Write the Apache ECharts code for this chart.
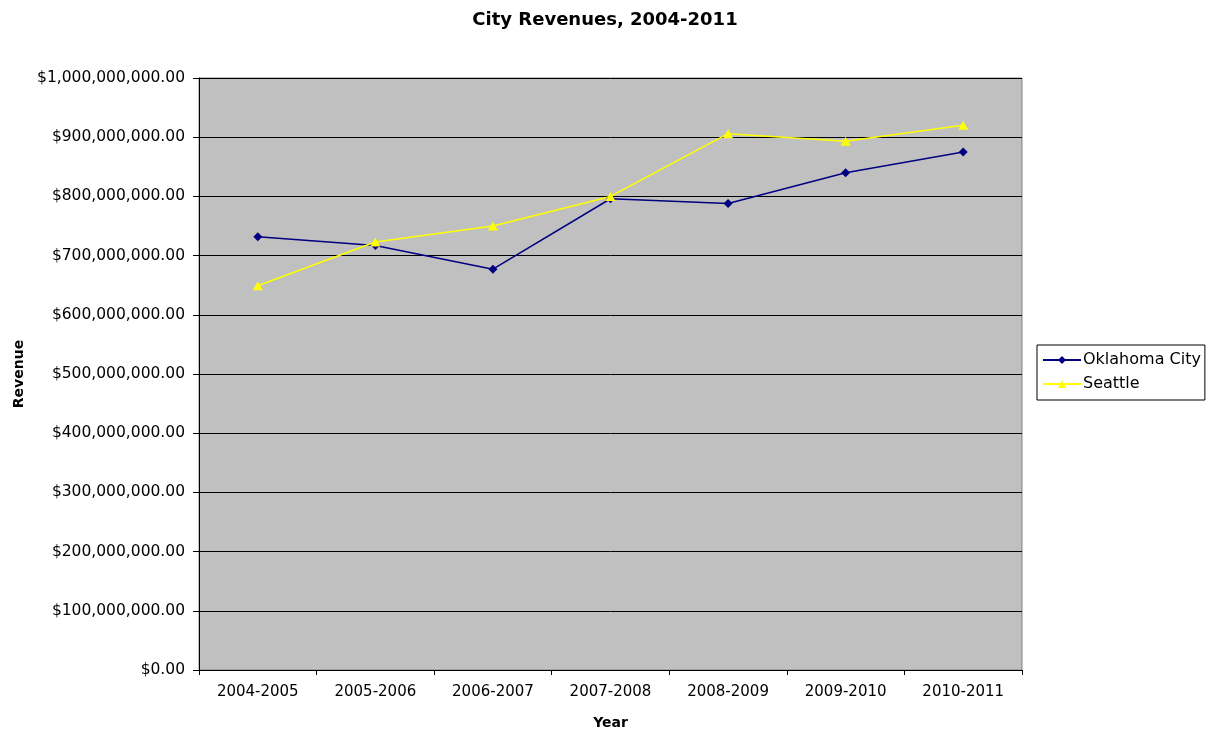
<!DOCTYPE html>
<html>
<head>
<meta charset="utf-8">
<script src="https://cdn.jsdelivr.net/npm/echarts@6/dist/echarts.min.js"></script>
<style>
  html, body { margin: 0; padding: 0; background: #fff; }
  #chart { width: 1212px; height: 732px; }
</style>
</head>
<body>
<div id="chart"></div>
<script>
  var years = ['2004-2005', '2005-2006', '2006-2007', '2007-2008', '2008-2009', '2009-2010', '2010-2011']
  var oklahomaCity = [732000000, 717000000, 677000000, 796000000, 788000000, 840000000, 875000000]
  var seattle = [649000000, 723000000, 750000000, 800000000, 906000000, 893000000, 920000000]

  function money(v) {
    return '$' + v.toLocaleString('en-US', { minimumFractionDigits: 2, maximumFractionDigits: 2 })
  }

  var mychart = echarts.init(document.getElementById('chart'))
  var font = 'DejaVu Sans, Verdana, sans-serif'
  var option = {
    animation: false,
    textStyle: { fontFamily: font },
    title: {
      text: 'City Revenues, 2004-2011',
      left: 600,
      top: 6,
      textAlign: 'center',
      textStyle: { fontSize: 18, fontWeight: 'bold', color: '#000', fontFamily: font }
    },
    legend: {
      orient: 'vertical',
      left: 1037,
      top: 345,
      padding: [7, 4, 8, 5],
      itemGap: 8,
      itemWidth: 38,
      itemHeight: 10,
      borderColor: '#000',
      borderWidth: 1,
      backgroundColor: '#fff',
      textStyle: { fontSize: 16, color: '#000', fontFamily: font, padding: [0, 0, 0, -3] },
      data: ['Oklahoma City', 'Seattle']
    },
    grid: {
      left: 199,
      right: 190,
      top: 78,
      bottom: 62,
      outerBoundsMode: 'none',
      containLabel: false,
      show: true,
      backgroundColor: '#c0c0c0',
      borderColor: '#808080',
      borderWidth: 1
    },
    xAxis: {
      type: 'category',
      data: years,
      boundaryGap: true,
      name: 'Year',
      nameLocation: 'middle',
      nameGap: 46,
      nameTextStyle: { fontSize: 14, fontWeight: 'bold', color: '#000' },
      axisLine: { lineStyle: { color: '#000', width: 1 } },
      axisTick: { show: true, length: 5, lineStyle: { color: '#000' } },
      axisLabel: { fontSize: 15, color: '#000', margin: 15 },
      splitLine: { show: false }
    },
    yAxis: {
      type: 'value',
      min: 0,
      max: 1000000000,
      interval: 100000000,
      name: 'Revenue',
      nameLocation: 'middle',
      nameGap: 172,
      nameTextStyle: { fontSize: 14, fontWeight: 'bold', color: '#000' },
      axisLine: { show: true, lineStyle: { color: '#000', width: 1 } },
      axisTick: { show: true, length: 6, lineStyle: { color: '#000' } },
      axisLabel: { fontSize: 15.5, color: '#000', margin: 14, formatter: money },
      splitLine: { show: true, lineStyle: { color: '#000', width: 1 } }
    },
    series: [
      {
        name: 'Oklahoma City',
        type: 'line',
        data: oklahomaCity,
        symbol: 'diamond',
        symbolSize: 9,
        itemStyle: { color: '#000080' },
        lineStyle: { color: '#000080', width: 1.5 }
      },
      {
        name: 'Seattle',
        type: 'line',
        data: seattle,
        symbol: 'triangle',
        symbolSize: [10, 9],
        itemStyle: { color: '#ffff00' },
        lineStyle: { color: '#ffff00', width: 1.5 }
      }
    ]
  }
  mychart.setOption(option)
</script>
</body>
</html>
